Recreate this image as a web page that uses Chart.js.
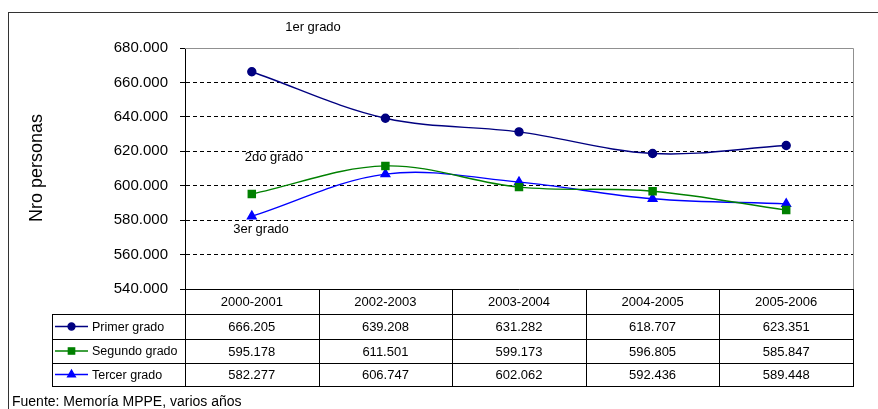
<!DOCTYPE html>
<html>
<head>
<meta charset="utf-8">
<style>
  html, body { margin: 0; padding: 0; background: #fff; }
  #wrap { width: 878px; height: 409px; position: relative; }
</style>
</head>
<body>
<div id="wrap"><canvas id="chart" width="878" height="409"></canvas></div>
<script src="https://cdn.jsdelivr.net/npm/chart.js@4/dist/chart.umd.min.js"></script>
<script>
(() => {
  'use strict';

  // datos (lectura del gráfico / tabla)
  const periodos = ['2000-2001', '2002-2003', '2003-2004', '2004-2005', '2005-2006'];
  const primerGrado = [666205, 639208, 631282, 618707, 623351];
  const segundoGrado = [595178, 611501, 599173, 596805, 585847];
  const tercerGrado = [582277, 606747, 602062, 592436, 589448];
  const yMin = 540000, yMax = 680000, yStep = 20000;
  const series = [
    { label: 'Primer grado', data: primerGrado, color: '#000080', style: 'circle', r: 4, lr: 3.5 },
    { label: 'Segundo grado', data: segundoGrado, color: '#008000', style: 'rect', r: 5, lr: 4.5 },
    { label: 'Tercer grado', data: tercerGrado, color: '#0000FF', style: 'triangle', r: 5, lr: 4.5 }
  ];
  const etiquetas = [
    { text: '1er grado', x: 313, y: 27 },
    { text: '2do grado', x: 274, y: 157 },
    { text: '3er grado', x: 261, y: 229 }
  ];
  const fuente = 'Fuente: Memoría MPPE, varios años';

  const FONT = 'Arial, "Liberation Sans", sans-serif';
  const fmt = n => String(n).replace(/\B(?=(\d{3})+(?!\d))/g, '.');

  // filas de la tabla de datos
  const rowTops = [289, 314, 339, 363, 386];
  const legendLeft = 52;

  const tablePlugin = {
    id: 'tabla',
    beforeDraw(chart) {
      const { ctx } = chart;
      ctx.save();
      ctx.fillStyle = '#fff';
      ctx.fillRect(0, 0, chart.width, chart.height);
      ctx.restore();
    },
    afterDraw(chart) {
      const { ctx, chartArea: a, scales: { x } } = chart;
      const step = x.getPixelForValue(1) - x.getPixelForValue(0);
      const colL = i => x.getPixelForValue(i) - step / 2;
      const right = colL(periodos.length - 1) + step;
      const left = colL(0);

      ctx.save();
      // marco exterior
      ctx.strokeStyle = '#333';
      ctx.lineWidth = 1;
      ctx.strokeRect(8.5, 12.5, 1000, 1000);

      // borde gris del área de trazado
      ctx.strokeStyle = '#909090';
      ctx.beginPath();
      ctx.moveTo(left, a.top + 0.5);
      ctx.lineTo(right + 0.5, a.top + 0.5);
      ctx.lineTo(right + 0.5, a.bottom);
      ctx.stroke();

      // líneas de la tabla
      ctx.strokeStyle = '#000';
      ctx.beginPath();
      ctx.moveTo(left, rowTops[0] + 0.5);
      ctx.lineTo(right + 1, rowTops[0] + 0.5);
      for (let r = 1; r < rowTops.length; r++) {
        ctx.moveTo(legendLeft, rowTops[r] + 0.5);
        ctx.lineTo(right + 1, rowTops[r] + 0.5);
      }
      ctx.moveTo(legendLeft + 0.5, rowTops[1]);
      ctx.lineTo(legendLeft + 0.5, rowTops[rowTops.length - 1] + 1);
      for (let i = 0; i <= periodos.length; i++) {
        const cx = Math.round(i < periodos.length ? colL(i) : right) + 0.5;
        ctx.moveTo(cx, rowTops[0]);
        ctx.lineTo(cx, rowTops[rowTops.length - 1] + 1);
      }
      ctx.stroke();

      // textos de la tabla
      ctx.fillStyle = '#000';
      ctx.font = '13px ' + FONT;
      ctx.textAlign = 'center';
      ctx.textBaseline = 'middle';
      periodos.forEach((p, i) => {
        ctx.fillText(p, x.getPixelForValue(i), (rowTops[0] + rowTops[1]) / 2 + 1);
      });
      series.forEach((s, r) => {
        const cy = (rowTops[r + 1] + rowTops[r + 2]) / 2 + 1;
        ctx.font = '13px ' + FONT;
        s.data.forEach((v, i) => {
          ctx.fillText(fmt(v), x.getPixelForValue(i), cy);
        });
        // clave de leyenda
        ctx.strokeStyle = s.color;
        ctx.fillStyle = s.color;
        ctx.lineWidth = 1.3;
        ctx.beginPath();
        ctx.moveTo(55, cy - 1);
        ctx.lineTo(88, cy - 1);
        ctx.stroke();
        Chart.helpers.drawPoint(ctx, { pointStyle: s.style, radius: s.lr, rotation: 0, borderWidth: 1 }, 71.5, cy - 1);
        ctx.fillStyle = '#000';
        ctx.textAlign = 'left';
        ctx.font = '12.5px ' + FONT;
        ctx.fillText(s.label, 92, cy);
        ctx.textAlign = 'center';
      });

      // etiquetas de series
      ctx.font = '13px ' + FONT;
      etiquetas.forEach(e => ctx.fillText(e.text, e.x, e.y));

      // título eje Y
      ctx.save();
      ctx.translate(37, 168);
      ctx.rotate(-Math.PI / 2);
      ctx.font = '18px ' + FONT;
      ctx.fillText('Nro personas', 0, 0);
      ctx.restore();

      // fuente
      ctx.textAlign = 'left';
      ctx.font = '14px ' + FONT;
      ctx.fillText(fuente, 12, 402);
      ctx.restore();
    }
  };

  const ctx = document.getElementById('chart');
  // eslint-disable-next-line no-unused-vars
  const myChart = new Chart(ctx, {
    type: 'line',
    data: {
      labels: periodos,
      datasets: series.map(s => ({
        label: s.label,
        data: s.data,
        borderColor: s.color,
        backgroundColor: s.color,
        pointBackgroundColor: s.color,
        pointBorderColor: s.color,
        pointStyle: s.style,
        pointRadius: s.r,
        borderWidth: 1.4,
        tension: 0.35,
        fill: false
      }))
    },
    options: {
      responsive: false,
      animation: false,
      devicePixelRatio: 1,
      layout: { padding: { left: 0, top: 48, right: 25, bottom: 120 } },
      plugins: {
        legend: { display: false },
        tooltip: { enabled: false }
      },
      scales: {
        x: {
          display: false,
          offset: true
        },
        y: {
          min: yMin,
          max: yMax,
          afterFit: s => { s.width = 185; },
          ticks: {
            stepSize: yStep,
            padding: 12,
            color: '#000',
            font: { family: FONT, size: 15 },
            callback: v => fmt(v)
          },
          grid: {
            color: c => c.tick && c.tick.value === yMax ? '#808080' : (c.tick && c.tick.value === yMin ? 'rgba(0,0,0,0)' : '#000'),
            tickColor: '#000',
            tickLength: 5,
            lineWidth: 1
          },
          border: { display: true, color: '#000', width: 1, dash: [4, 3] }
        }
      }
    },
    plugins: [tablePlugin]
  });
})();
</script>
</body>
</html>
